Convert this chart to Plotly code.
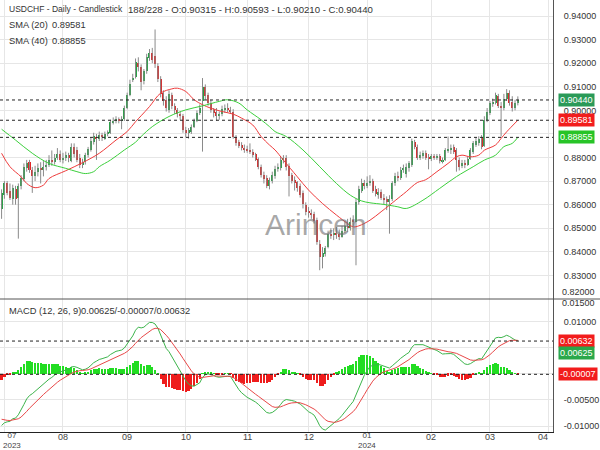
import plotly.graph_objects as go
import pandas as pd
import numpy as np

# ---------------- data ----------------
dates = pd.bdate_range("2023-06-30", "2024-03-15") + pd.Timedelta(hours=12)

open_ = [
    .8580, .8640, .8690, .8660, .8625, .8665, .8630, .8680, .8710, .8755,
    .8780, .8745, .8722, .8738, .8755, .8745, .8760, .8770, .8790, .8780,
    .8800, .8815, .8790, .8800, .8810, .8785, .8845, .8830, .8800, .8770,
    .8780, .8810, .8830, .8865, .8885, .8880, .8895, .8880, .8900, .8905,
    .8950, .8955, .8960, .8955, .8965, .9010, .9065, .9130, .9140, .9200,
    .9185, .9125, .9165, .9220, .9245, .9230, .9190, .9135, .9075, .9045,
    .9000, .9065, .9020, .9000, .8985, .8975, .8915, .8905, .8910, .8930,
    .8955, .8990, .9040, .9100, .9065, .9030, .9000, .8995, .8975, .8985,
    .9005, .9010, .9000, .8995, .8885, .8865, .8855, .8840, .8835, .8830,
    .8825, .8815, .8795, .8760, .8725, .8715, .8680, .8700, .8720, .8750,
    .8755, .8790, .8800, .8765, .8725, .8705, .8695, .8680, .8650, .8600,
    .8570, .8565, .8560, .8535, .8435, .8380, .8390, .8420, .8475, .8470,
    .8480, .8475, .8465, .8490, .8510, .8500, .8535, .8525, .8610, .8660,
    .8690, .8680, .8690, .8700, .8665, .8640, .8655, .8630, .8625, .8610,
    .8625, .8690, .8720, .8715, .8745, .8730, .8755, .8770, .8865, .8845,
    .8800, .8805, .8820, .8800, .8795, .8805, .8800, .8805, .8785, .8790,
    .8830, .8830, .8845, .8830, .8790, .8765, .8775, .8770, .8795, .8825,
    .8855, .8860, .8885, .8850, .8960, .8990, .9030, .9030, .9060, .9020,
    .9010, .9050, .9075, .9035, .9010, .90315,
]
high = [
    .8665, .8700, .8700, .8690, .8685, .8680, .8690, .8725, .8775, .8790,
    .8790, .8760, .8765, .8775, .8780, .8785, .8790, .8810, .8830, .8815,
    .8840, .8830, .8820, .8825, .8820, .8860, .8860, .8845, .8815, .8795,
    .8820, .8845, .8885, .8905, .8900, .8910, .8905, .8910, .8915, .8960,
    .8970, .8975, .8970, .8975, .9020, .9075, .9130, .9155, .9220, .9225,
    .9195, .9175, .9240, .9260, .9265, .9343, .9200, .9145, .9085, .9060,
    .9085, .9075, .9030, .9010, .8995, .8985, .8930, .8925, .8940, .8965,
    .9000, .9025, .9137, .9110, .9075, .9045, .9010, .9010, .8995, .9020,
    .9025, .9030, .9015, .9005, .8895, .8875, .8865, .8855, .8850, .8860,
    .8835, .8820, .8800, .8770, .8740, .8725, .8715, .8740, .8765, .8775,
    .8805, .8810, .8810, .8775, .8735, .8720, .8700, .8690, .8660, .8610,
    .8590, .8580, .8570, .8545, .8450, .8420, .8425, .8490, .8500, .8500,
    .8505, .8495, .8510, .8530, .8540, .8545, .8555, .8625, .8680, .8710,
    .8705, .8720, .8725, .8710, .8680, .8670, .8665, .8645, .8635, .8640,
    .8700, .8735, .8740, .8760, .8770, .8775, .8785, .8880, .8875, .8855,
    .8825, .8830, .8830, .8815, .8815, .8815, .8815, .8815, .8800, .8840,
    .8889, .8855, .8855, .8840, .8800, .8790, .8790, .8805, .8840, .8870,
    .8885, .8890, .8895, .8975, .9010, .9040, .9050, .9075, .9070, .9035,
    .9070, .9090, .9085, .9060, .9045, .90593,
]
low = [
    .8540, .8625, .8640, .8620, .8600, .8600, .8456, .8665, .8700, .8740,
    .8735, .8650, .8700, .8720, .8690, .8720, .8745, .8760, .8765, .8770,
    .8790, .8780, .8775, .8785, .8780, .8780, .8800, .8780, .8755, .8755,
    .8770, .8800, .8825, .8855, .8790, .8870, .8870, .8875, .8890, .8900,
    .8940, .8945, .8945, .8920, .8955, .9005, .9060, .9120, .9135, .9165,
    .9085, .9110, .9155, .9210, .9200, .9180, .9120, .9055, .9020, .8995,
    .8990, .9005, .8985, .8970, .8960, .8905, .8885, .8880, .8900, .8925,
    .8950, .8980, .8825, .9045, .9020, .8990, .8970, .8955, .8960, .8975,
    .8990, .8990, .8985, .8880, .8850, .8840, .8830, .8820, .8820, .8815,
    .8800, .8785, .8750, .8715, .8690, .8670, .8665, .8690, .8710, .8740,
    .8745, .8775, .8745, .8635, .8690, .8660, .8655, .8630, .8584, .8555,
    .8545, .8540, .8520, .8430, .8322, .8330, .8380, .8415, .8455, .8450,
    .8455, .8450, .8460, .8480, .8485, .8490, .8510, .8343, .8600, .8650,
    .8665, .8670, .8680, .8650, .8635, .8625, .8620, .8600, .8577, .8477,
    .8615, .8680, .8700, .8705, .8735, .8715, .8740, .8760, .8835, .8790,
    .8790, .8795, .8790, .8750, .8785, .8790, .8790, .8775, .8775, .8785,
    .8820, .8815, .8815, .8740, .8745, .8755, .8755, .8765, .8790, .8815,
    .8845, .8850, .8835, .8845, .8950, .8980, .9015, .9025, .9010, .8889,
    .9000, .9040, .9020, .8995, .9000, .90210,
]
close = [
    .8650, .8690, .8650, .8630, .8670, .8625, .8680, .8715, .8760, .8775,
    .8745, .8720, .8738, .8755, .8745, .8760, .8770, .8790, .8780, .8800,
    .8815, .8790, .8800, .8810, .8800, .8845, .8815, .8790, .8770, .8780,
    .8810, .8835, .8870, .8890, .8880, .8895, .8885, .8900, .8905, .8950,
    .8955, .8960, .8955, .8965, .9010, .9065, .9110, .9135, .9205, .9185,
    .9120, .9165, .9225, .9245, .9215, .9195, .9135, .9070, .9040, .9010,
    .9070, .9020, .9000, .8985, .8975, .8915, .8905, .8915, .8930, .8955,
    .8990, .9010, .9100, .9060, .9030, .9000, .8990, .8975, .8985, .9005,
    .9010, .9000, .8995, .8885, .8860, .8850, .8840, .8835, .8830, .8825,
    .8810, .8790, .8760, .8725, .8710, .8680, .8705, .8725, .8750, .8760,
    .8790, .8800, .8760, .8720, .8700, .8690, .8670, .8640, .8605, .8570,
    .8565, .8560, .8530, .8440, .8380, .8395, .8415, .8475, .8470, .8480,
    .8470, .8465, .8490, .8510, .8500, .8525, .8525, .8610, .8665, .8690,
    .8680, .8690, .8700, .8660, .8645, .8655, .8630, .8620, .8610, .8625,
    .8690, .8720, .8715, .8745, .8755, .8760, .8775, .8870, .8845, .8800,
    .8810, .8820, .8800, .8795, .8805, .8800, .8805, .8785, .8790, .8830,
    .8835, .8840, .8825, .8790, .8760, .8775, .8770, .8795, .8830, .8860,
    .8870, .8880, .8845, .8960, .8995, .9030, .9035, .9065, .9020, .9010,
    .9050, .9075, .9030, .9010, .9030, .90440,
]

# moving averages (bar index -> value)
sma20_idx = [0, 3, 7, 9, 12, 15, 17, 23, 29, 35, 41, 45, 48, 50, 53, 57, 61, 63, 66,
             69, 72, 75, 79, 83, 86, 90, 93, 96, 98, 101, 106, 110, 115, 120, 124,
             126, 128, 132, 136, 139, 143, 145, 147, 149, 152, 156, 160, 163, 165,
             168, 171, 173, 177, 179, 181, 185]
sma20_val = [.8818, .8761, .8718, .8690, .8672, .8683, .8711, .8744, .8778, .8818,
             .8874, .8910, .8952, .8977, .9016, .9073, .9091, .9094, .9080, .9045,
             .9024, .9009, .8995, .8984, .8967, .8938, .8889, .8853, .8832, .8789,
             .8718, .8662, .8605, .8556, .8520, .8506, .8510, .8534, .8570, .8598,
             .8636, .8655, .8676, .8694, .8706, .8740, .8775, .8803, .8810, .8803,
             .8810, .8831, .8853, .8881, .8909, .89581]
sma40_idx = [0, 5, 11, 17, 23, 27, 30, 33, 35, 39, 44, 48, 50, 54, 60, 66, 72, 78,
             81, 85, 88, 93, 96, 98, 102, 108, 114, 120, 125, 129, 132, 137, 142,
             145, 151, 157, 163, 169, 173, 177, 180, 183, 185]
sma40_val = [.8920, .8874, .8818, .8775, .8754, .8740, .8732, .8740, .8761, .8789,
             .8832, .8865, .8889, .8931, .8974, .9002, .9019, .9038, .9045, .9031,
             .9002, .8960, .8931, .8910, .8889, .8832, .8761, .8690, .8640, .8616,
             .8608, .8601, .8591, .8584, .8619, .8669, .8719, .8761, .8789, .8810,
             .8846, .8860, .88855]

ema12_seed = 0.8730
ema26_seed = 0.8830
signal_seed = -0.0084

last_close, last_sma20, last_sma40 = 0.90440, 0.89581, 0.88855
last_macd, last_hist, last_signal = 0.00625, -0.00007, 0.00632

month_ticks = ["2023-07-03", "2023-08-01", "2023-09-01", "2023-10-02", "2023-11-01",
               "2023-12-01", "2024-01-01", "2024-02-01", "2024-03-01", "2024-04-01"]
month_labels = ["07", "08", "09", "10", "11", "12", "01", "02", "03", "04"]
year_labels = {"2023-07-03": "2023", "2024-01-01": "2024"}
price_ticks = [0.83, 0.84, 0.85, 0.86, 0.87, 0.88, 0.89, 0.90, 0.91, 0.92, 0.93, 0.94]
price_ticktext = ["0.83000", "0.84000", "0.85000", "0.86000", "0.87000", "0.88000",
                  "", "0.90000", "0.91000", "0.92000", "0.93000", "0.94000"]
macd_ticks = [-0.01, -0.005, 0.0, 0.005, 0.01]
macd_ticktext = ["-0.01000", "-0.00500", "", "", "0.01000"]

# ---------------- indicators ----------------
def ema(values, n, seed):
    k = 2.0 / (n + 1)
    e = seed
    out = []
    for v in values:
        e = e + k * (v - e)
        out.append(e)
    return np.array(out)

c = np.array(close)
macd = ema(c, 12, ema12_seed) - ema(c, 26, ema26_seed)
signal = ema(macd, 9, signal_seed)
hist = macd - signal

# ---------------- styling ----------------
FONT = "Liberation Sans, Arial, sans-serif"
FS = 9
UP = "#25a244"
DOWN = "#e02828"
WICK = "#8a8a8a"
GRID = "#e6e6e6"
DAY_MS = 86400000

o = np.array(open_)
body_base = np.minimum(o, c)
body_h = np.maximum(np.abs(c - o), 0.00012)
body_col = [UP if cc >= oo else DOWN for oo, cc in zip(o, c)]

wx, wy = [], []
for d, h, l in zip(dates, high, low):
    wx += [d, d, None]
    wy += [h, l, None]

fig = go.Figure()
fig.add_trace(go.Scatter(x=wx, y=wy, mode="lines", line=dict(color=WICK, width=1),
                         hoverinfo="skip", xaxis="x", yaxis="y"))
fig.add_trace(go.Bar(x=dates, y=body_h, base=body_base, marker=dict(color=body_col, line=dict(width=0)),
                     width=0.72 * DAY_MS, xaxis="x", yaxis="y"))
fig.add_trace(go.Scatter(x=dates[sma20_idx], y=sma20_val, mode="lines",
                         line=dict(color="#ee3b3b", width=1, shape="spline", smoothing=1.0),
                         xaxis="x", yaxis="y"))
fig.add_trace(go.Scatter(x=dates[sma40_idx], y=sma40_val, mode="lines",
                         line=dict(color="#3ccf3c", width=1, shape="spline", smoothing=1.0),
                         xaxis="x", yaxis="y"))

hist_col = ["#22dd22" if v >= 0 else "#ee1c1c" for v in hist]
fig.add_trace(go.Bar(x=dates, y=hist, marker=dict(color=hist_col, line=dict(width=0)),
                     width=0.8 * DAY_MS, xaxis="x", yaxis="y2"))
fig.add_trace(go.Scatter(x=dates, y=macd, mode="lines", line=dict(color="#3cb44b", width=1),
                         xaxis="x", yaxis="y2"))
fig.add_trace(go.Scatter(x=dates, y=signal, mode="lines", line=dict(color="#e84848", width=1),
                         xaxis="x", yaxis="y2"))

SPLIT = 133.0 / 432.0
tick_noon = [t + " 12:00" for t in month_ticks]

fig.update_layout(
    width=600, height=450,
    margin=dict(l=0, r=47, t=0, b=18),
    paper_bgcolor="white", plot_bgcolor="white",
    showlegend=False, barmode="overlay", bargap=0,
    font=dict(family=FONT, size=FS, color="#333"),
    xaxis=dict(domain=[0, 1], anchor="y2", type="date",
               range=["2023-06-29 22:20", "2024-04-03 02:24"],
               rangebreaks=[dict(bounds=["sat", "mon"])],
               tickvals=tick_noon, showticklabels=False, ticks="",
               showgrid=True, gridcolor=GRID, gridwidth=1, zeroline=False,
               showline=True, linecolor="#222", linewidth=1),
    yaxis=dict(domain=[SPLIT, 1], anchor="x", side="right", range=[0.82, 0.9468],
               tickvals=price_ticks, ticktext=price_ticktext,
               showgrid=True, gridcolor=GRID, zeroline=False, ticks="",
               ticklabelstandoff=8,
               showline=True, linecolor="#555", linewidth=1,
               tickfont=dict(size=FS, color="#333", family=FONT)),
    yaxis2=dict(domain=[0, SPLIT], anchor="x", side="right", range=[-0.01115, 0.0144],
                tickvals=macd_ticks, ticktext=macd_ticktext,
                showgrid=True, gridcolor=GRID, zeroline=False, ticks="",
                ticklabelstandoff=8,
                showline=True, linecolor="#555", linewidth=1,
                tickfont=dict(size=FS, color="#333", family=FONT)),
)

shapes = []
for val, ax in [(last_close, "y"), (last_sma20, "y"), (last_sma40, "y"),
                (last_signal, "y2"), (last_hist, "y2")]:
    shapes.append(dict(type="line", xref="paper", x0=0, x1=1, yref=ax, y0=val, y1=val,
                       line=dict(color="#222", width=1, dash="3px,3px")))
shapes.append(dict(type="line", xref="paper", x0=0, x1=600 / 553, yref="paper",
                   y0=SPLIT, y1=SPLIT, line=dict(color="#555", width=1)))
fig.update_layout(shapes=shapes)

ann = []


def py(pix):
    return (432.0 - pix) / 432.0


# value boxes on the right axis
for val, ax, bg, ysh in [(last_close, "y", "#2a9a58", 0), (last_sma20, "y", "#f21c1c", 0),
                         (last_sma40, "y", "#27c427", 0), (last_signal, "y2", "#f21c1c", 0),
                         (last_macd, "y2", "#2aa84a", -11.5), (last_hist, "y2", "#f21c1c", 0)]:
    ann.append(dict(xref="paper", x=1, xanchor="left", xshift=5, yref=ax, y=val,
                    yanchor="middle", yshift=ysh, showarrow=False,
                    text=f"{val:.5f}", bgcolor=bg, borderpad=1,
                    font=dict(size=FS, color="white", family=FONT)))

# edge axis labels
ann.append(dict(xref="paper", x=1, xanchor="left", xshift=7, yref="paper", y=py(292),
                yanchor="middle", showarrow=False, text="0.82000",
                font=dict(size=FS, color="#333", family=FONT)))
ann.append(dict(xref="paper", x=1, xanchor="left", xshift=7, yref="paper", y=py(303),
                yanchor="middle", showarrow=False, text="0.01500",
                font=dict(size=FS, color="#333", family=FONT)))

# month labels (month and year stacked in one text where a year starts)
for t, lab in zip(month_ticks, month_labels):
    xs = 0
    if t == month_ticks[0]:
        xs = 8
    elif t == month_ticks[-1]:
        xs = -6
    if t in year_labels:
        ann.append(dict(xref="x", x=t + " 12:00", xshift=xs, yref="paper", y=py(451),
                        yanchor="bottom", showarrow=False, borderpad=0,
                        text=lab + "<br>" + year_labels[t],
                        font=dict(size=8, color="#444", family=FONT)))
    else:
        ann.append(dict(xref="x", x=t + " 12:00", xshift=xs, yref="paper", y=py(436.5),
                        yanchor="middle", showarrow=False, text=lab, borderpad=0,
                        font=dict(size=FS, color="#444", family=FONT)))

# header / legends
hdr = [("USDCHF - Daily - Candlestick", 7, 9, 8.5),
       ("188/228 - O:0.90315 - H:0.90593 - L:0.90210 - C:0.90440", 126, 9, 9.6),
       ("SMA (20)", 7, 25, 9.3), (f"{last_sma20:.5f}", 50, 25, 9.3),
       ("SMA (40)", 7, 41, 9.3), (f"{last_sma40:.5f}", 50, 41, 9.3),
       ("MACD (12, 26, 9)", 7, 311, 9.3),
       (f"{last_macd:.5f}/{last_hist:.5f}/{last_signal:.5f}", 79, 311, 9.3)]
for txt, px, pyy, fs in hdr:
    ann.append(dict(xref="paper", x=px / 553.0, xanchor="left", yref="paper", y=py(pyy),
                    yanchor="middle", showarrow=False, text=txt,
                    font=dict(size=fs, color="#333", family=FONT)))

# watermark
ann.append(dict(xref="paper", x=316 / 553.0, yref="paper", y=py(224), showarrow=False,
                text="Arincen", font=dict(size=30, color="rgba(110,110,110,0.6)", family=FONT)))

fig.update_layout(annotations=ann)
fig.write_html("out.html")
